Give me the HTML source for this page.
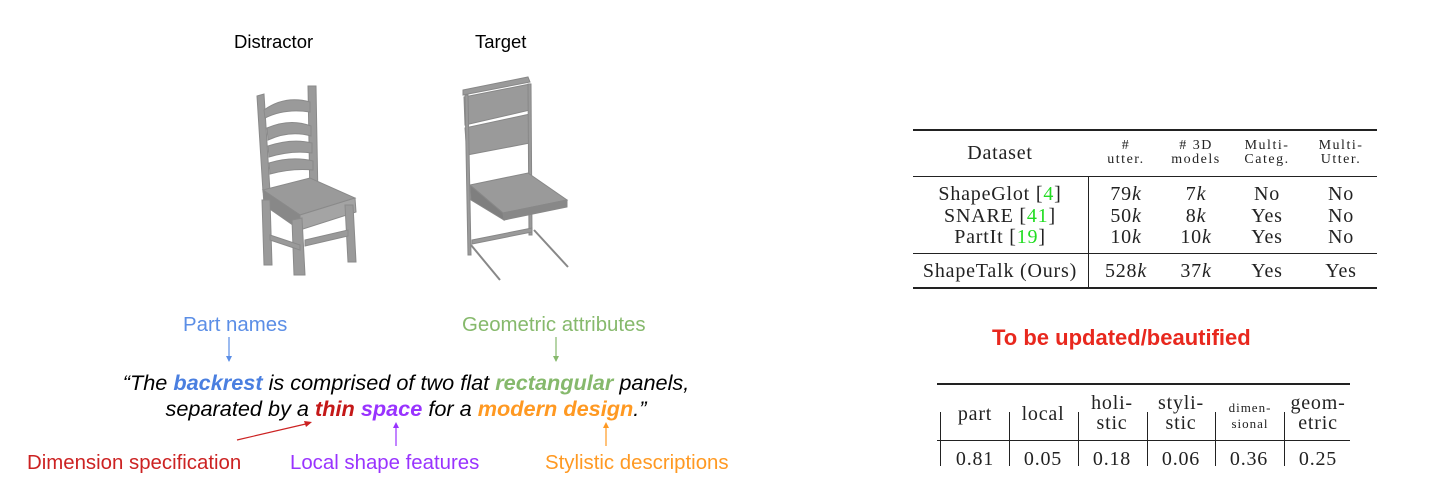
<!DOCTYPE html>
<html><head><meta charset="utf-8"><style>
body{margin:0;width:1439px;height:502px;background:#fff;position:relative;overflow:hidden;font-family:"Liberation Sans",sans-serif}
.a{position:absolute;white-space:nowrap}
.s{font-family:"Liberation Serif",serif;font-size:20px;letter-spacing:0.8px;color:#222;text-align:center;line-height:1}
.sm{font-size:14px;letter-spacing:1.5px}
.g{color:#22dd22}
.q{font-style:italic;font-size:21.7px;color:#000;width:800px;text-align:center;left:6px}
.q b{font-weight:bold}
.rule{position:absolute;background:#222}
.lb{font-size:20.4px}
</style></head><body>
<svg class="a" style="left:0;top:0" width="760" height="502">
 <g fill="#9a9a9a" stroke="#8a8a8a" stroke-width="1">
  <polygon points="257,96 264,94 270,192 263,192"/>
  <polygon points="308,86 316,86 318,200 310,200"/>
  <path d="M264,110 Q285,95 310,102 L310,112 Q285,108 265,118Z"/>
  <path d="M267,128 Q290,118 311,126 L311,136 Q290,130 268,140Z"/>
  <path d="M268,146 Q292,138 312,143 L312,153 Q292,150 269,157Z"/>
  <path d="M269,163 Q292,156 313,161 L313,170 Q292,168 270,174Z"/>
  <polygon points="263,190 310,178 355,198 300,215"/>
  <polygon points="263,190 300,215 300,230 264,205" fill="#888"/>
  <polygon points="300,215 355,198 356,212 300,230" fill="#a4a4a4"/>
  <polygon points="262,200 270,200 272,265 264,265"/>
  <polygon points="292,220 302,218 305,275 294,275"/>
  <polygon points="345,205 353,205 356,262 348,262"/>
  <polygon points="270,235 300,245 300,250 270,240"/>
  <polygon points="305,240 348,230 348,236 305,246"/>
 </g>
 <g fill="#9a9a9a" stroke="#888" stroke-width="1">
  <polygon points="463,90 528,77 530,82 463,95"/>
  <polygon points="464,97 530,84 530,110 465,125"/>
  <polygon points="465,128 530,114 530,143 467,155"/>
  <polygon points="465,95 468,255 471,255 468,95"/>
  <polygon points="528,84 531,84 532,235 529,235"/>
  <polygon points="470,185 528,173 567,200 503,213"/>
  <polygon points="503,213 567,200 567,207 504,220" fill="#888"/>
  <polygon points="470,185 503,213 504,220 471,200" fill="#7f7f7f"/>
  <polygon points="472,240 532,228 532,232 472,244"/>
 </g>
 <g stroke="#888" stroke-width="2">
  <line x1="471" y1="245" x2="500" y2="280"/><line x1="534" y1="230" x2="568" y2="267"/>
 </g>
 <g fill="none" stroke-width="1.2">
  <line x1="229" y1="337" x2="229" y2="361" stroke="#5b8ee6"/>
  <polygon points="226,356 232,356 229,362" fill="#5b8ee6" stroke="none"/>
  <line x1="556" y1="337" x2="556" y2="361" stroke="#86b96c"/>
  <polygon points="553,356 559,356 556,362" fill="#86b96c" stroke="none"/>
  <line x1="237" y1="440" x2="310" y2="423" stroke="#cc2222"/>
  <polygon points="312,422 304,421 306,427" fill="#cc2222" stroke="none"/>
  <line x1="396" y1="446" x2="396" y2="424" stroke="#9933ff"/>
  <polygon points="393,428 399,428 396,422" fill="#9933ff" stroke="none"/>
  <line x1="606" y1="446" x2="606" y2="424" stroke="#ff9922"/>
  <polygon points="603,428 609,428 606,422" fill="#ff9922" stroke="none"/>
 </g>
</svg>

<div class="a" style="left:234px;top:31px;font-size:18.5px">Distractor</div>
<div class="a" style="left:475px;top:31px;font-size:18.5px">Target</div>

<div class="a lb" style="left:183px;top:314px;color:#5b8ee6">Part names</div>
<div class="a lb" style="left:462px;top:314px;color:#86b96c">Geometric attributes</div>
<div class="a q" style="top:370px">“The <b style="color:#4a7fe0">backrest</b> is comprised of two flat <b style="color:#86b96c">rectangular</b> panels,</div>
<div class="a q" style="top:396px">separated by a <b style="color:#c41818">thin</b> <b style="color:#9933ff">space</b> for a <b style="color:#ff9922">modern design</b>.”</div>
<div class="a lb" style="left:27px;top:452px;color:#cc2222">Dimension specification</div>
<div class="a lb" style="left:290px;top:452px;color:#9933ff">Local shape features</div>
<div class="a lb" style="left:545px;top:452px;color:#ff9922">Stylistic descriptions</div>

<div class="rule" style="left:913px;top:129px;width:464px;height:2px"></div>
<div class="rule" style="left:913px;top:176px;width:464px;height:1px"></div>
<div class="rule" style="left:913px;top:253px;width:464px;height:1px"></div>
<div class="rule" style="left:913px;top:287px;width:464px;height:2px"></div>
<div class="rule" style="left:1088px;top:177px;width:1px;height:111px"></div>
<div class="a s" style="left:940px;top:143px;width:120px">Dataset</div>
<div class="a s sm" style="left:1093px;top:139px;width:66px">#<br>utter.</div>
<div class="a s sm" style="left:1158px;top:139px;width:76px">#&nbsp;3D<br>models</div>
<div class="a s sm" style="left:1229px;top:139px;width:76px">Multi-<br>Categ.</div>
<div class="a s sm" style="left:1303px;top:139px;width:76px">Multi-<br>Utter.</div>
<div class="a s" style="left:905px;top:184px;width:190px;line-height:21.5px">ShapeGlot [<span class="g">4</span>]<br>SNARE [<span class="g">41</span>]<br>PartIt [<span class="g">19</span>]</div>
<div class="a s" style="left:1093px;top:184px;width:66px;line-height:21.5px">79<i>k</i><br>50<i>k</i><br>10<i>k</i></div>
<div class="a s" style="left:1158px;top:184px;width:76px;line-height:21.5px">7<i>k</i><br>8<i>k</i><br>10<i>k</i></div>
<div class="a s" style="left:1229px;top:184px;width:76px;line-height:21.5px">No<br>Yes<br>Yes</div>
<div class="a s" style="left:1303px;top:184px;width:76px;line-height:21.5px">No<br>No<br>No</div>
<div class="a s" style="left:905px;top:261px;width:190px">ShapeTalk (Ours)</div>
<div class="a s" style="left:1093px;top:261px;width:66px">528<i>k</i></div>
<div class="a s" style="left:1158px;top:261px;width:76px">37<i>k</i></div>
<div class="a s" style="left:1229px;top:261px;width:76px">Yes</div>
<div class="a s" style="left:1303px;top:261px;width:76px">Yes</div>

<div class="a" style="left:992px;top:325px;font-size:22px;font-weight:bold;color:#e8281e">To be updated/beautified</div>

<div class="rule" style="left:937px;top:383px;width:413px;height:2px"></div>
<div class="rule" style="left:937px;top:440px;width:413px;height:1px"></div>
<div class="rule" style="left:940px;top:412px;width:1px;height:54px"></div>
<div class="rule" style="left:1009px;top:412px;width:1px;height:54px"></div>
<div class="rule" style="left:1078px;top:412px;width:1px;height:54px"></div>
<div class="rule" style="left:1147px;top:412px;width:1px;height:54px"></div>
<div class="rule" style="left:1215px;top:412px;width:1px;height:54px"></div>
<div class="rule" style="left:1284px;top:412px;width:1px;height:54px"></div>
<div class="a s" style="left:941px;top:404px;width:68px">part</div>
<div class="a s" style="left:1009px;top:404px;width:68px">local</div>
<div class="a s" style="left:1078px;top:393px;width:68px;line-height:20px">holi-<br>stic</div>
<div class="a s" style="left:1147px;top:393px;width:68px;line-height:20px">styli-<br>stic</div>
<div class="a s" style="left:1215px;top:400px;width:70px;font-size:13px;line-height:16px;letter-spacing:1px">dimen-<br>sional</div>
<div class="a s" style="left:1284px;top:393px;width:68px;line-height:20px">geom-<br>etric</div>
<div class="a s" style="left:941px;top:449px;width:68px">0.81</div>
<div class="a s" style="left:1009px;top:449px;width:68px">0.05</div>
<div class="a s" style="left:1078px;top:449px;width:68px">0.18</div>
<div class="a s" style="left:1147px;top:449px;width:68px">0.06</div>
<div class="a s" style="left:1215px;top:449px;width:68px">0.36</div>
<div class="a s" style="left:1284px;top:449px;width:68px">0.25</div>
</body></html>
